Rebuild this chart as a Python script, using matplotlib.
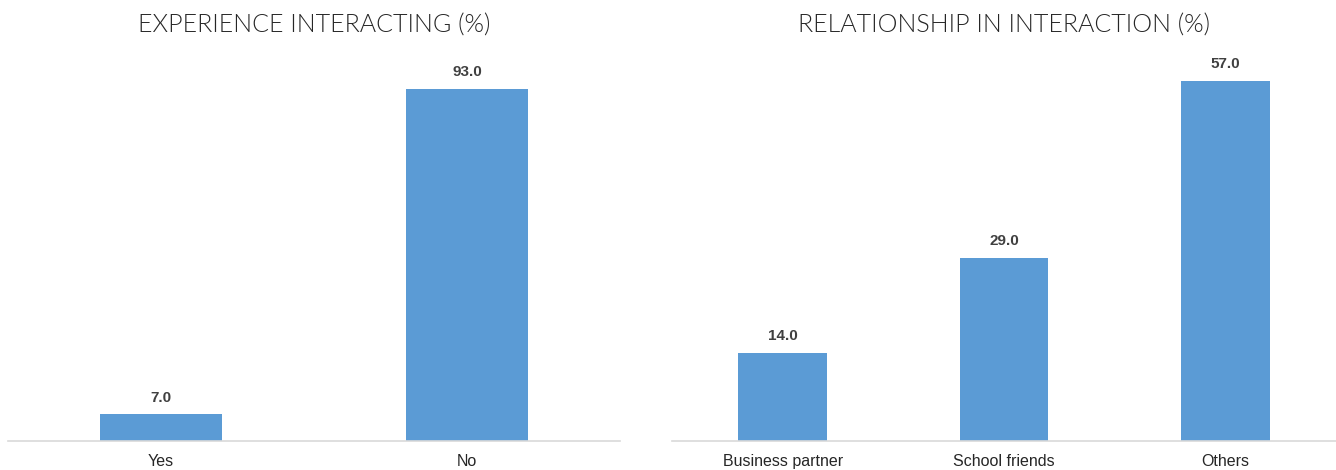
import matplotlib.pyplot as plt

# survey results
exp_labels = ['Yes', 'No']
exp_values = [7.0, 93.0]

rel_labels = ['Business partner', 'School friends', 'Others']
rel_values = [14.0, 29.0, 57.0]

bar_color = '#5B9BD5'
tick_font = ['Liberation Sans Narrow', 'Liberation Sans', 'DejaVu Sans']
title_font = ['Lato', 'DejaVu Sans']

fig = plt.figure(figsize=(13.36, 4.70), dpi=100)
ax1 = fig.add_axes([0.006, 0.0617, 0.458, 0.8064])
ax2 = fig.add_axes([0.503, 0.0617, 0.497, 0.8064])


def draw(ax, labels, values, ymax, title):
    x = range(len(labels))
    bars = ax.bar(x, values, width=0.4, color=bar_color, zorder=2)
    ax.set_xlim(-0.5, len(labels) - 0.5)
    ax.set_ylim(0, ymax)
    for b, v in zip(bars, values):
        ax.text(b.get_x() + b.get_width() / 2, v + ymax * 0.025, '%.1f' % v,
                ha='center', va='bottom', fontsize=11, fontweight='bold',
                color='#404040', family=tick_font)
    ax.set_xticks(list(x))
    ax.set_xticklabels(labels, fontsize=11.5, color='#262626', family=tick_font)
    ax.tick_params(axis='x', length=0, pad=9)
    ax.set_yticks([])
    for s in ['top', 'left', 'right']:
        ax.spines[s].set_visible(False)
    ax.spines['bottom'].set_color('#D9D9D9')
    ax.spines['bottom'].set_linewidth(1.2)
    ax.set_title(title, fontsize=18, color='#262626', family=title_font,
                 fontweight=300, pad=21)


draw(ax1, exp_labels, exp_values, 100, 'EXPERIENCE INTERACTING (%)')
draw(ax2, rel_labels, rel_values, 60, 'RELATIONSHIP IN INTERACTION (%)')

fig.savefig('out.png', dpi=100)
